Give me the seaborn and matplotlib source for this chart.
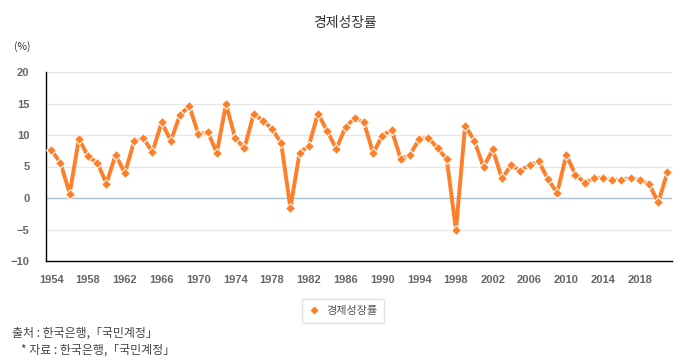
import numpy as np
import pandas as pd
import matplotlib
matplotlib.use('Agg')
import matplotlib.pyplot as plt
import seaborn as sns

# Data
years = list(range(1954, 2022))
growth = [7.6, 5.6, 0.7, 9.4, 6.6, 5.6, 2.3, 6.9, 3.9, 9.0,
          9.5, 7.3, 12.0, 9.1, 13.2, 14.6, 10.1, 10.5, 7.2, 14.9,
          9.5, 7.9, 13.3, 12.3, 11.0, 8.7, -1.6, 7.2, 8.3, 13.4,
          10.6, 7.8, 11.3, 12.7, 12.0, 7.1, 9.9, 10.8, 6.2, 6.9,
          9.3, 9.6, 7.9, 6.2, -5.1, 11.5, 9.1, 4.9, 7.7, 3.1,
          5.2, 4.3, 5.3, 5.8, 3.0, 0.8, 6.8, 3.7, 2.4, 3.2,
          3.2, 2.8, 2.9, 3.2, 2.9, 2.2, -0.7, 4.1]
x_ticks = list(range(1954, 2022, 4))
y_ticks = [-10, -5, 0, 5, 10, 15, 20]
series_name = '경제성장률'

df = pd.DataFrame({'year': years, 'value': growth})

sns.set_style('white')
plt.rcParams['font.family'] = ['Noto Sans CJK KR', 'DejaVu Sans']

fig = plt.figure(figsize=(6.9, 3.6), dpi=100)
ax = fig.add_axes([0.067, 0.275, 0.907, 0.525])

# grid lines, zero line a bit darker
for y in y_ticks:
    if y == 0:
        ax.axhline(y, color='#a9bfcc', lw=1, zorder=1)
    elif y > -10:
        ax.axhline(y, color='#e6e6e6', lw=1, zorder=1)

orange = '#fd7f2a'
sns.lineplot(data=df, x='year', y='value', ax=ax, color=orange, lw=2.8,
             marker='D', markersize=5.5, markeredgecolor='white',
             markeredgewidth=0.8, label=series_name, legend=False, zorder=3)

ax.set_xlim(1953.45, 2021.5)
ax.set_ylim(-10, 20)
ax.set_xticks(x_ticks)
ax.set_yticks(y_ticks)
ax.set_xlabel('')
ax.set_ylabel('')
for s in ['top', 'right']:
    ax.spines[s].set_visible(False)
for s in ['left', 'bottom']:
    ax.spines[s].set_color('black')
    ax.spines[s].set_linewidth(1)
ax.tick_params(axis='both', length=0, labelsize=8, labelcolor='#666666')
ax.tick_params(axis='x', pad=10)
ax.tick_params(axis='y', pad=12)
for lbl in ax.get_xticklabels() + ax.get_yticklabels():
    lbl.set_fontweight('bold')
    lbl.set_family(['Liberation Sans', 'DejaVu Sans'])

fig.text(0.5, 1 - 23 / 360, series_name, ha='center', va='center',
         fontsize=10, color='#333333')
fig.text(0.032, 1 - 47 / 360, '(%)', ha='center', va='center',
         fontsize=7.5, color='#333333')

# legend box below the plot
leg = fig.legend([plt.Line2D([], [], color='none', marker='D', markersize=5,
                             markerfacecolor=orange, markeredgecolor='white')],
                 [series_name], loc='center', bbox_to_anchor=(0.497, 1 - 311 / 360),
                 fontsize=8, frameon=True, fancybox=False, handlelength=1.0,
                 borderpad=0.6, handletextpad=0.6)
leg.get_frame().set_edgecolor('#dddddd')
leg.get_frame().set_linewidth(1)
for t in leg.get_texts():
    t.set_color('#555555')

fig.text(0.017, 1 - 333 / 360, '출처 : 한국은행,「국민계정」', ha='left', va='center',
         fontsize=8.6, color='#444444')
fig.text(0.03, 1 - 350 / 360, '* 자료 : 한국은행,「국민계정」', ha='left', va='center',
         fontsize=8.6, color='#444444')

fig.savefig('out.png', dpi=100)
